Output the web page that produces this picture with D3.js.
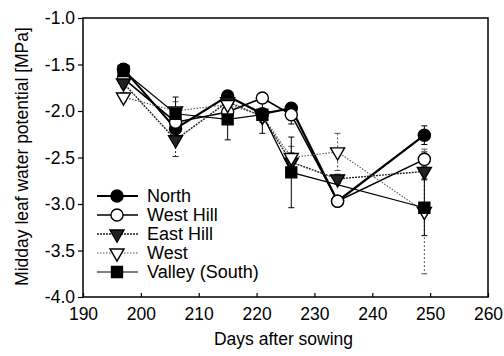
<!DOCTYPE html>
<html lang="en">
<head>
	<meta charset="UTF-8">
	<script src="https://cdn.jsdelivr.net/npm/d3@7"></script>
	<title>Midday leaf water potential</title>
	<style>
		body { margin: 0; background: #fff; }
		text { font-family: "Liberation Sans", Arial, sans-serif; fill: #000; }
	</style>
</head>
<body>
	<div id="container"></div>
<script>
	// sampling days
	const days = [197, 206, 215, 221, 226, 234, 249];

	// series values [MPa] and standard errors (null = not measured)
	const north      = [-1.55, -2.19, -1.84, -2.03, -1.97, -2.97, -2.26];
	const northErr   = [0.06, 0.10, 0.05, 0.05, 0.06, 0.03, 0.10];
	const westHill   = [-1.65, -2.12, -2.01, -1.86, -2.04, -2.97, -2.52];
	const westHillErr = [0.05, 0.10, 0.06, 0.05, 0.10, 0.03, 0.08];
	const eastHill   = [-1.70, -2.31, -1.90, -2.06, -2.55, -2.73, -2.65];
	const eastHillErr = [0.05, 0.18, 0.06, 0.06, 0.10, 0.05, 0.08];
	const west       = [-1.85, -2.00, -1.93, -2.05, -2.50, -2.44, -3.08];
	const westErr    = [0.05, 0.10, 0.06, 0.06, 0.12, 0.20, 0.67];
	const valley     = [-1.57, -2.03, -2.09, -2.04, -2.66, null, -3.04];
	const valleyErr  = [0.06, 0.18, 0.22, 0.20, 0.38, null, 0.30];

	const xTicks = [190, 200, 210, 220, 230, 240, 250, 260];
	const yTicks = [-1.0, -1.5, -2.0, -2.5, -3.0, -3.5, -4.0];

	const width = 504, height = 356;
	const margin = {left: 83, right: 16, top: 18, bottom: 59};

	const series = [
		{name: 'North', vals: north, err: northErr, sym: 'circle', fill: '#000', lw: 2.2, dash: null, col: '#000'},
		{name: 'West Hill', vals: westHill, err: westHillErr, sym: 'circle', fill: '#fff', lw: 1.6, dash: null, col: '#000'},
		{name: 'East Hill', vals: eastHill, err: eastHillErr, sym: 'tri', fill: '#222', lw: 1.4, dash: '2,1', col: '#222'},
		{name: 'West', vals: west, err: westErr, sym: 'tri', fill: '#fff', lw: 1.1, dash: '1.5,1.5', col: '#555'},
		{name: 'Valley (South)', vals: valley, err: valleyErr, sym: 'square', fill: '#000', lw: 1.2, dash: null, col: '#000'}
	];

	const x = d3.scaleLinear()
		.domain([190, 260])
		.range([margin.left, width - margin.right]);

	const y = d3.scaleLinear()
		.domain([-4, -1])
		.range([height - margin.bottom, margin.top]);

	const svg = d3.select('#container')
		.append('svg')
		.attr('width', width)
		.attr('height', height);

	function symbolPath(sym) {
		if (sym === 'circle') return d3.symbol().type(d3.symbolCircle).size(115)();
		if (sym === 'square') return d3.symbol().type(d3.symbolSquare).size(120)();
		// drawn upside down below
		return d3.symbol().type(d3.symbolTriangle).size(85)();
	}

	// points that were measured
	const pts = s => s.vals
		.map((v, i) => ({day: days[i], v: v, e: s.err[i]}))
		.filter(p => p.v !== null);

	// lines
	const line = d3.line()
		.x(p => x(p.day))
		.y(p => y(p.v));

	series.forEach(s => {
		svg.append('path')
			.datum(pts(s))
			.attr('d', line)
			.attr('fill', 'none')
			.attr('stroke', s.col)
			.attr('stroke-width', s.lw)
			.attr('stroke-dasharray', s.dash);
	});

	// error bars
	series.forEach(s => {
		const g = svg.append('g');
		pts(s).forEach(p => {
			const cx = x(p.day);
			const y1 = y(p.v + p.e), y2 = y(p.v - p.e);
			g.append('line')
				.attr('x1', cx).attr('x2', cx)
				.attr('y1', y1).attr('y2', y2)
				.attr('stroke', s.col)
				.attr('stroke-width', 1)
				.attr('stroke-dasharray', s.dash ? '2,2' : null);
			[y1, y2].forEach(yy => {
				g.append('line')
					.attr('x1', cx - 3).attr('x2', cx + 3)
					.attr('y1', yy).attr('y2', yy)
					.attr('stroke', s.col)
					.attr('stroke-width', 1);
			});
		});
	});

	// markers
	series.forEach(s => {
		svg.append('g')
			.selectAll('path')
			.data(pts(s))
			.join('path')
			.attr('d', symbolPath(s.sym))
			.attr('transform', p => `translate(${x(p.day)},${y(p.v)})` + (s.sym === 'tri' ? ' rotate(180)' : ''))
			.attr('fill', s.fill)
			.attr('stroke', '#000')
			.attr('stroke-width', 1.4);
	});

	// frame
	svg.append('rect')
		.attr('x', margin.left)
		.attr('y', margin.top)
		.attr('width', width - margin.left - margin.right)
		.attr('height', height - margin.top - margin.bottom)
		.attr('fill', 'none')
		.attr('stroke', '#000')
		.attr('stroke-width', 1.5);

	// axes
	const xAxis = d3.axisBottom(x)
		.tickValues(xTicks)
		.tickSizeInner(-4)
		.tickSizeOuter(0)
		.tickPadding(11);

	const gx = svg.append('g')
		.attr('transform', `translate(0, ${height - margin.bottom})`)
		.call(xAxis);
	gx.select('.domain').remove();
	gx.selectAll('text')
		.style('font-size', '17.5px')
		.attr('fill', '#000');

	const yAxis = d3.axisLeft(y)
		.tickValues(yTicks)
		.tickSizeInner(5)
		.tickSizeOuter(0)
		.tickPadding(3);

	const gy = svg.append('g')
		.attr('transform', `translate(${margin.left}, 0)`)
		.call(yAxis);
	gy.select('.domain').remove();
	gy.selectAll('text')
		.style('font-size', '17.5px')
		.attr('fill', '#000')
		.text(d => d.toFixed(1));

	svg.selectAll('.tick line').attr('stroke', '#000').attr('stroke-width', 1.2);

	// axis titles
	svg.append('text')
		.attr('x', (margin.left + width - margin.right) / 2 - 2)
		.attr('y', 345)
		.attr('text-anchor', 'middle')
		.style('font-size', '17.5px')
		.text('Days after sowing');

	svg.append('text')
		.attr('transform', `translate(28, ${(margin.top + height - margin.bottom) / 2 - 1}) rotate(-90)`)
		.attr('text-anchor', 'middle')
		.style('font-size', '17.5px')
		.text('Midday leaf water potential [MPa]');

	// legend
	const legend = svg.append('g');
	series.forEach((s, i) => {
		const ly = 196 + i * 19;
		legend.append('line')
			.attr('x1', 97).attr('x2', 138)
			.attr('y1', ly).attr('y2', ly)
			.attr('stroke', s.col)
			.attr('stroke-width', s.lw)
			.attr('stroke-dasharray', s.dash);
		legend.append('path')
			.attr('d', symbolPath(s.sym))
			.attr('transform', `translate(117, ${ly})` + (s.sym === 'tri' ? ' rotate(180)' : ''))
			.attr('fill', s.fill)
			.attr('stroke', '#000')
			.attr('stroke-width', 1.4);
		legend.append('text')
			.attr('x', 147)
			.attr('y', ly + 6)
			.style('font-size', '18px')
			.text(s.name);
	});
</script>
</body>
</html>
